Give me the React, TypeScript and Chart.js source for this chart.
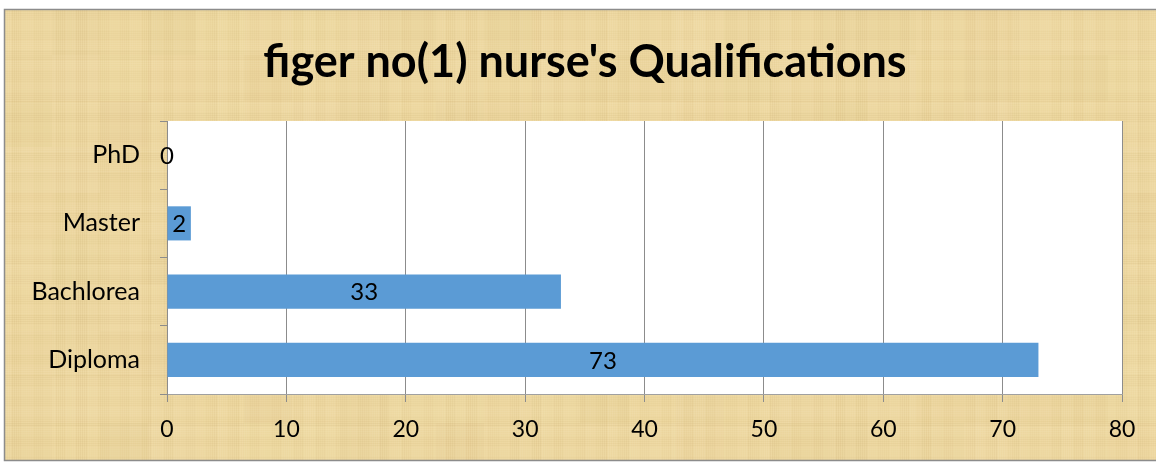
import React, { useEffect, useRef } from "react";
import { Chart, registerables } from "chart.js";
Chart.register(...registerables);

const categories = ["PhD", "Master", "Bachlorea", "Diploma"];
const values = [0, 2, 33, 73];
const chartTitle = "figer no(1) nurse's Qualifications";
const xMin = 0;
const xMax = 80;
const xStep = 10;

const FONT = "Lato, 'Open Sans', sans-serif";

const bgPlugin = {
  id: "papyrusBg",
  beforeDraw(chart: any) {
    const { ctx, width, height, chartArea } = chart;
    ctx.save();
    ctx.fillStyle = "#ffffff";
    ctx.fillRect(0, 0, width, height);
    ctx.fillStyle = "rgb(237,215,160)";
    ctx.fillRect(4, 9, width, 451);
    // deterministic papyrus-like fibres and blotches
    ctx.save();
    ctx.beginPath();
    ctx.rect(4, 9, width, 451);
    ctx.clip();
    for (let x = 4; x < width; x += 2) {
      const a = 0.04 + 0.08 * Math.abs(Math.sin(x * 0.137) * Math.cos(x * 0.041));
      ctx.fillStyle = Math.sin(x * 0.29) > 0 ? `rgba(255,246,215,${a})` : `rgba(190,160,100,${a})`;
      ctx.fillRect(x, 9, 1, 451);
    }
    for (let y = 9; y < height; y += 2) {
      const a = 0.04 + 0.08 * Math.abs(Math.sin(y * 0.173) * Math.cos(y * 0.059));
      ctx.fillStyle = Math.sin(y * 0.31) > 0 ? `rgba(255,246,215,${a})` : `rgba(190,160,100,${a})`;
      ctx.fillRect(4, y, width, 1);
    }
    for (let bx = 0; bx < 24; bx++) {
      for (let by = 0; by < 10; by++) {
        const v = Math.sin(bx * 1.7 + by * 2.3) * Math.cos(bx * 0.9 - by * 1.3);
        const a = 0.06 * Math.abs(v);
        ctx.fillStyle = v > 0 ? `rgba(200,170,105,${a})` : `rgba(255,240,200,${a})`;
        ctx.fillRect(4 + bx * 48, 9 + by * 46, 48, 46);
      }
    }
    ctx.restore();
    ctx.strokeStyle = "#8c8c8c";
    ctx.lineWidth = 1.5;
    ctx.strokeRect(4.5, 9.5, width + 10, 451);
    ctx.fillStyle = "#ffffff";
    ctx.fillRect(chartArea.left, chartArea.top, chartArea.right - chartArea.left, chartArea.bottom - chartArea.top);
    ctx.fillStyle = "#000000";
    ctx.font = `bold 45px ${FONT}`;
    ctx.textAlign = "center";
    ctx.textBaseline = "alphabetic";
    ctx.fillText(chartTitle, 585, 77);
    ctx.restore();
  },
};

const labelPlugin = {
  id: "barLabels",
  afterDatasetsDraw(chart: any) {
    const { ctx } = chart;
    const meta = chart.getDatasetMeta(0);
    ctx.save();
    ctx.fillStyle = "#000000";
    ctx.font = `24px ${FONT}`;
    ctx.textAlign = "center";
    ctx.textBaseline = "middle";
    meta.data.forEach((el: any, i: number) => {
      const cx = (el.x + el.base) / 2;
      ctx.fillText(String(values[i]), cx, el.y + 1);
    });
    ctx.restore();
  },
};

export default function App() {
  const ref = useRef<HTMLCanvasElement | null>(null);
  useEffect(() => {
    document.body.style.margin = "0";
    const canvas = ref.current!;
    const chart = new Chart(canvas, {
      type: "bar",
      data: {
        labels: categories,
        datasets: [
          {
            data: values,
            backgroundColor: "#5b9bd5",
            borderWidth: 0,
            barPercentage: 0.5,
            categoryPercentage: 1,
          },
        ],
      },
      options: {
        indexAxis: "y",
        animation: false,
        responsive: false,
        maintainAspectRatio: false,
        layout: { padding: { top: 121, right: 34, left: 0, bottom: 0 } },
        plugins: {
          legend: { display: false },
          title: { display: false },
          tooltip: { enabled: false },
        },
        scales: {
          x: {
            min: xMin,
            max: xMax,
            ticks: {
              stepSize: xStep,
              color: "#000",
              font: { family: FONT, size: 23 },
              padding: 14,
            },
            grid: { color: "#8c8c8c", tickLength: 8, lineWidth: 1 },
            border: { color: "#a0a0a0" },
            afterFit(scale: any) {
              scale.height = 69;
            },
          },
          y: {
            ticks: {
              color: "#000",
              font: { family: FONT, size: 25 },
              padding: 20,
            },
            grid: { drawOnChartArea: false, tickLength: 7, color: "#8c8c8c" },
            border: { color: "#8c8c8c" },
            afterFit(scale: any) {
              scale.width = 167;
            },
          },
        },
      },
      plugins: [bgPlugin, labelPlugin],
    });
    return () => chart.destroy();
  }, []);
  return (
    <div style={{ width: 1156, height: 463 }}>
      <canvas ref={ref} width={1156} height={463} style={{ display: "block" }} />
    </div>
  );
}
